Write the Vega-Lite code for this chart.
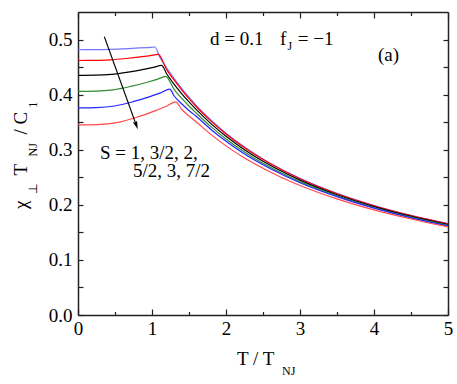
{
  "$schema": "https://vega.github.io/schema/vega-lite/v6.json",
  "width": 370,
  "height": 303,
  "autosize": {"type": "none"},
  "padding": {"left": 78, "top": 12, "right": 9, "bottom": 69},
  "background": "white",
  "config": {"view": {"stroke": null}, "font": "Liberation Serif"},
  "datasets": {
    "curves": [
      {"S":"1","T":0,"v":0.4815},{"S":"1","T":0.208,"v":0.4816},{"S":"1","T":0.416,"v":0.482},{"S":"1","T":0.624,"v":0.4832},{"S":"1","T":0.832,"v":0.4847},{"S":"1","T":0.936,"v":0.4855},{"S":"1","T":1.04,"v":0.4865},{"S":"1","T":1.1,"v":0.4695},{"S":"1","T":1.2,"v":0.4484},{"S":"1","T":1.3,"v":0.4292},{"S":"1","T":1.4,"v":0.4115},{"S":"1","T":1.5,"v":0.3953},{"S":"1","T":1.6,"v":0.3802},{"S":"1","T":1.8,"v":0.3534},{"S":"1","T":2.0,"v":0.33},{"S":"1","T":2.25,"v":0.3049},{"S":"1","T":2.5,"v":0.2833},{"S":"1","T":2.75,"v":0.2646},{"S":"1","T":3.0,"v":0.2481},{"S":"1","T":3.5,"v":0.2208},{"S":"1","T":4.0,"v":0.1988},{"S":"1","T":4.5,"v":0.1808},{"S":"1","T":5.0,"v":0.1658},
      {"S":"3/2","T":0,"v":0.462},{"S":"3/2","T":0.217,"v":0.4622},{"S":"3/2","T":0.434,"v":0.4631},{"S":"3/2","T":0.651,"v":0.4656},{"S":"3/2","T":0.868,"v":0.4689},{"S":"3/2","T":0.977,"v":0.4708},{"S":"3/2","T":1.085,"v":0.473},{"S":"3/2","T":1.2,"v":0.4449},{"S":"3/2","T":1.3,"v":0.4262},{"S":"3/2","T":1.4,"v":0.4087},{"S":"3/2","T":1.5,"v":0.3928},{"S":"3/2","T":1.6,"v":0.378},{"S":"3/2","T":1.8,"v":0.3515},{"S":"3/2","T":2.0,"v":0.3284},{"S":"3/2","T":2.25,"v":0.3035},{"S":"3/2","T":2.5,"v":0.2821},{"S":"3/2","T":2.75,"v":0.2636},{"S":"3/2","T":3.0,"v":0.2472},{"S":"3/2","T":3.5,"v":0.2201},{"S":"3/2","T":4.0,"v":0.1983},{"S":"3/2","T":4.5,"v":0.1804},{"S":"3/2","T":5.0,"v":0.1655},
      {"S":"2","T":0,"v":0.435},{"S":"2","T":0.226,"v":0.4353},{"S":"2","T":0.452,"v":0.4368},{"S":"2","T":0.678,"v":0.4409},{"S":"2","T":0.904,"v":0.4463},{"S":"2","T":1.017,"v":0.4494},{"S":"2","T":1.13,"v":0.453},{"S":"2","T":1.2,"v":0.4374},{"S":"2","T":1.3,"v":0.4187},{"S":"2","T":1.4,"v":0.402},{"S":"2","T":1.5,"v":0.3868},{"S":"2","T":1.6,"v":0.3727},{"S":"2","T":1.8,"v":0.3469},{"S":"2","T":2.0,"v":0.3243},{"S":"2","T":2.25,"v":0.2999},{"S":"2","T":2.5,"v":0.279},{"S":"2","T":2.75,"v":0.2609},{"S":"2","T":3.0,"v":0.2449},{"S":"2","T":3.5,"v":0.2183},{"S":"2","T":4.0,"v":0.1968},{"S":"2","T":4.5,"v":0.179},{"S":"2","T":5.0,"v":0.1642},
      {"S":"5/2","T":0,"v":0.406},{"S":"5/2","T":0.237,"v":0.4064},{"S":"5/2","T":0.474,"v":0.4087},{"S":"5/2","T":0.711,"v":0.4149},{"S":"5/2","T":0.948,"v":0.423},{"S":"5/2","T":1.067,"v":0.4276},{"S":"5/2","T":1.185,"v":0.433},{"S":"5/2","T":1.3,"v":0.4092},{"S":"5/2","T":1.4,"v":0.3935},{"S":"5/2","T":1.5,"v":0.3793},{"S":"5/2","T":1.6,"v":0.3662},{"S":"5/2","T":1.8,"v":0.3414},{"S":"5/2","T":2.0,"v":0.3195},{"S":"5/2","T":2.25,"v":0.2959},{"S":"5/2","T":2.5,"v":0.2755},{"S":"5/2","T":2.75,"v":0.2578},{"S":"5/2","T":3.0,"v":0.2421},{"S":"5/2","T":3.5,"v":0.2163},{"S":"5/2","T":4.0,"v":0.1952},{"S":"5/2","T":4.5,"v":0.1776},{"S":"5/2","T":5.0,"v":0.1628},
      {"S":"3","T":0,"v":0.376},{"S":"3","T":0.248,"v":0.3765},{"S":"3","T":0.496,"v":0.3794},{"S":"3","T":0.744,"v":0.3872},{"S":"3","T":0.992,"v":0.3974},{"S":"3","T":1.116,"v":0.4032},{"S":"3","T":1.24,"v":0.41},{"S":"3","T":1.3,"v":0.3975},{"S":"3","T":1.4,"v":0.3835},{"S":"3","T":1.5,"v":0.3713},{"S":"3","T":1.6,"v":0.3602},{"S":"3","T":1.8,"v":0.3364},{"S":"3","T":2.0,"v":0.3155},{"S":"3","T":2.25,"v":0.2924},{"S":"3","T":2.5,"v":0.2728},{"S":"3","T":2.75,"v":0.2554},{"S":"3","T":3.0,"v":0.2401},{"S":"3","T":3.5,"v":0.2148},{"S":"3","T":4.0,"v":0.194},{"S":"3","T":4.5,"v":0.1764},{"S":"3","T":5.0,"v":0.1618},
      {"S":"7/2","T":0,"v":0.345},{"S":"7/2","T":0.264,"v":0.3456},{"S":"7/2","T":0.528,"v":0.3492},{"S":"7/2","T":0.792,"v":0.3589},{"S":"7/2","T":1.056,"v":0.3715},{"S":"7/2","T":1.188,"v":0.3786},{"S":"7/2","T":1.32,"v":0.387},{"S":"7/2","T":1.4,"v":0.3735},{"S":"7/2","T":1.5,"v":0.3613},{"S":"7/2","T":1.6,"v":0.3502},{"S":"7/2","T":1.8,"v":0.3274},{"S":"7/2","T":2.0,"v":0.307},{"S":"7/2","T":2.25,"v":0.2849},{"S":"7/2","T":2.5,"v":0.2663},{"S":"7/2","T":2.75,"v":0.2496},{"S":"7/2","T":3.0,"v":0.2351},{"S":"7/2","T":3.5,"v":0.2108},{"S":"7/2","T":4.0,"v":0.1908},{"S":"7/2","T":4.5,"v":0.1743},{"S":"7/2","T":5.0,"v":0.1598}
    ],
    "arrow": [{"x1": 0.356, "y1": 0.505, "x2": 0.788, "y2": 0.3444}],
    "labels": [
      {"txt": "d = 0.1", "tx": 1.784, "ty": 0.4909},
      {"txt": "f", "tx": 2.73, "ty": 0.4909},
      {"txt": "= \u22121", "tx": 2.97, "ty": 0.4909},
      {"txt": "(a)", "tx": 4.054, "ty": 0.4618},
      {"txt": "S = 1, 3/2, 2,", "tx": 0.297, "ty": 0.2836},
      {"txt": "5/2, 3, 7/2", "tx": 0.743, "ty": 0.2509},
      {"txt": "T / T", "tx": 2.149, "ty": -0.0909}
    ],
    "subs": [
      {"txt": "J", "tx": 2.83, "ty": 0.4818},
      {"txt": "NJ", "tx": 2.757, "ty": -0.109}
    ],
    "ytitle": [
      {"txt": "\u03c7", "tx": -0.689, "ty": 0.2},
      {"txt": "T", "tx": -0.689, "ty": 0.2636},
      {"txt": "/ C", "tx": -0.689, "ty": 0.3482}
    ],
    "ysubs": [
      {"txt": "\u22a5", "tx": -0.56, "ty": 0.2291},
      {"txt": "NJ", "tx": -0.56, "ty": 0.3},
      {"txt": "1", "tx": -0.56, "ty": 0.3818}
    ]
  },
  "resolve": {"axis": {"x": "independent", "y": "independent"}},
  "layer": [
    {
      "data": {"name": "curves"},
      "mark": {"type": "line", "strokeWidth": 1.2, "interpolate": "monotone"},
      "encoding": {
        "x": {"field": "T", "type": "quantitative",
          "scale": {"domain": [0, 5], "nice": false, "zero": false},
          "axis": {"orient": "bottom", "title": null, "grid": false,
            "values": [0, 0.5, 1, 1.5, 2, 2.5, 3, 3.5, 4, 4.5, 5],
            "labelExpr": "datum.value % 1 === 0 ? format(datum.value, 'd') : ''",
            "tickSize": {"condition": {"test": "datum.value % 1 !== 0", "value": -3.5}, "value": -6},
            "labelPadding": 10, "labelFlush": false, "labelOverlap": false,
            "labelFont": "Liberation Serif", "labelFontSize": 19, "labelColor": "black",
            "domainColor": "#222", "domainWidth": 1.5, "tickColor": "#222", "tickWidth": 1.2}},
        "y": {"field": "v", "type": "quantitative",
          "scale": {"domain": [0, 0.55], "nice": false, "zero": false},
          "axis": {"orient": "left", "title": null, "grid": false,
            "values": [0, 0.05, 0.1, 0.15, 0.2, 0.25, 0.3, 0.35, 0.4, 0.45, 0.5],
            "labelExpr": "round(datum.value * 100) % 10 === 0 ? format(datum.value, '.1f') : ''",
            "tickSize": -5, "labelPadding": 11, "labelOverlap": false, "labelFlush": false,
            "labelFont": "Liberation Serif", "labelFontSize": 19, "labelColor": "black",
            "labelBaseline": "middle",
            "domainColor": "#222", "domainWidth": 1.5, "tickColor": "#222", "tickWidth": 1.2}},
        "color": {"field": "S", "type": "nominal", "legend": null,
          "scale": {"domain": ["1", "3/2", "2", "5/2", "3", "7/2"],
            "range": ["#7373ff", "#ff0000", "#000000", "#2e8b2e", "#2424ff", "#ff4a4a"]}}
      }
    },
    {
      "data": {"name": "arrow"},
      "mark": {"type": "rule", "color": "black", "strokeWidth": 1.1},
      "encoding": {
        "x": {"field": "x1", "type": "quantitative",
          "scale": {"domain": [0, 5], "nice": false, "zero": false},
          "axis": {"orient": "top", "title": null, "grid": false, "labels": false,
            "values": [0, 0.5, 1, 1.5, 2, 2.5, 3, 3.5, 4, 4.5, 5],
            "tickSize": {"condition": {"test": "datum.value % 1 !== 0", "value": -3.5}, "value": -6},
            "domainColor": "#222", "domainWidth": 1.5, "tickColor": "#222", "tickWidth": 1.2}},
        "y": {"field": "y1", "type": "quantitative",
          "scale": {"domain": [0, 0.55], "nice": false, "zero": false},
          "axis": {"orient": "right", "title": null, "grid": false, "labels": false,
            "values": [0, 0.05, 0.1, 0.15, 0.2, 0.25, 0.3, 0.35, 0.4, 0.45, 0.5],
            "tickSize": -5,
            "domainColor": "#222", "domainWidth": 1.5, "tickColor": "#222", "tickWidth": 1.2}},
        "x2": {"field": "x2"},
        "y2": {"field": "y2"}
      }
    },
    {
      "data": {"name": "arrow"},
      "mark": {"type": "point", "shape": "M0,-1L0.55,1L0,0.55L-0.55,1Z", "angle": 160, "size": 70, "filled": true, "color": "black", "opacity": 1},
      "encoding": {
        "x": {"field": "x2", "type": "quantitative", "scale": {"domain": [0, 5], "nice": false, "zero": false}, "axis": null},
        "y": {"field": "y2", "type": "quantitative", "scale": {"domain": [0, 0.55], "nice": false, "zero": false}, "axis": null}
      }
    },
    {
      "data": {"name": "labels"},
      "mark": {"type": "text", "font": "Liberation Serif", "fontSize": 19, "align": "left", "baseline": "alphabetic", "color": "black"},
      "encoding": {
        "x": {"field": "tx", "type": "quantitative", "scale": {"domain": [0, 5], "nice": false, "zero": false}, "axis": null},
        "y": {"field": "ty", "type": "quantitative", "scale": {"domain": [0, 0.55], "nice": false, "zero": false}, "axis": null},
        "text": {"field": "txt"}
      }
    },
    {
      "data": {"name": "subs"},
      "mark": {"type": "text", "font": "Liberation Serif", "fontSize": 12, "align": "left", "baseline": "alphabetic", "color": "black"},
      "encoding": {
        "x": {"field": "tx", "type": "quantitative", "scale": {"domain": [0, 5], "nice": false, "zero": false}, "axis": null},
        "y": {"field": "ty", "type": "quantitative", "scale": {"domain": [0, 0.55], "nice": false, "zero": false}, "axis": null},
        "text": {"field": "txt"}
      }
    },
    {
      "data": {"name": "ytitle"},
      "mark": {"type": "text", "font": "Liberation Serif", "fontSize": 19, "align": "center", "baseline": "alphabetic", "angle": 270, "color": "black"},
      "encoding": {
        "x": {"field": "tx", "type": "quantitative", "scale": {"domain": [0, 5], "nice": false, "zero": false}, "axis": null},
        "y": {"field": "ty", "type": "quantitative", "scale": {"domain": [0, 0.55], "nice": false, "zero": false}, "axis": null},
        "text": {"field": "txt"}
      }
    },
    {
      "data": {"name": "ysubs"},
      "mark": {"type": "text", "font": "Liberation Serif", "fontSize": 12, "align": "center", "baseline": "alphabetic", "angle": 270, "color": "black"},
      "encoding": {
        "x": {"field": "tx", "type": "quantitative", "scale": {"domain": [0, 5], "nice": false, "zero": false}, "axis": null},
        "y": {"field": "ty", "type": "quantitative", "scale": {"domain": [0, 0.55], "nice": false, "zero": false}, "axis": null},
        "text": {"field": "txt"}
      }
    }
  ]
}
